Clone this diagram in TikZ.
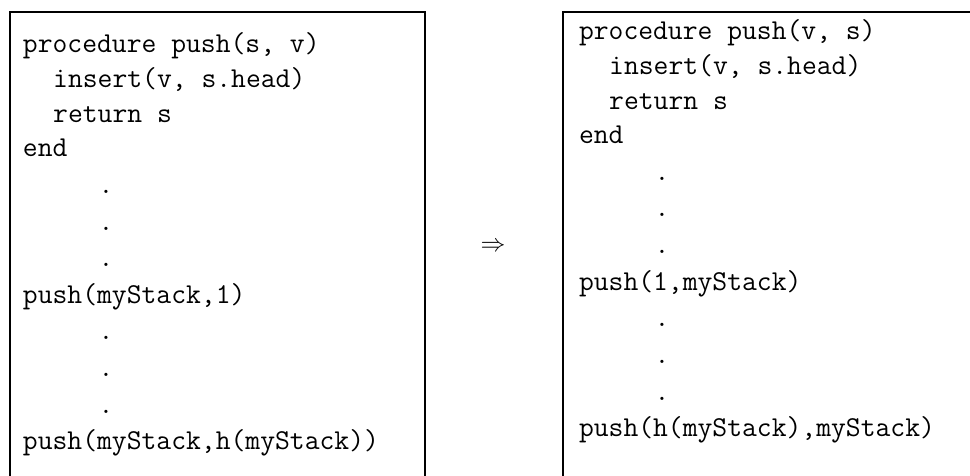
\documentclass[tikz,border=0pt]{standalone}
\begin{document}
\begin{tikzpicture}[x=1pt,y=-1pt,
  codeline/.style={font=\fontsize{28.8}{34.56}\selectfont\ttfamily,
    anchor=base west, inner sep=0pt, outer sep=0pt},
  frameline/.style={line width=2.6pt}]
\useasboundingbox (0,0) rectangle (970,476);
\clip (0,0) rectangle (970,476);

% frames, open at the bottom
\draw[frameline] (10,490) -- (10,12) -- (425,12) -- (425,490);
\draw[frameline] (563,490) -- (563,12) -- (985,12);

% column width of one character, line pitch and pitch of the elided rows
\def\charw{15.12}
\def\linepitch{34.6}
\def\rowpitch{36.6}

% left listing
\begin{scope}[shift={(23,53)}]
\node[codeline] (a1)  at (0,0)                                  {procedure push(s, v)};
\node[codeline] (a2)  at (2*\charw,\linepitch)                  {insert(v, s.head)};
\node[codeline] (a3)  at (2*\charw,2*\linepitch)                {return s};
\node[codeline] (a4)  at (0,3*\linepitch)                       {end};
\node[codeline] (a5)  at (5*\charw,3*\linepitch+\rowpitch)      {.};
\node[codeline] (a6)  at (5*\charw,3*\linepitch+2*\rowpitch)    {.};
\node[codeline] (a7)  at (5*\charw,3*\linepitch+3*\rowpitch)    {.};
\node[codeline] (a8)  at (0,3*\linepitch+4*\rowpitch)           {push(myStack,1)};
\node[codeline] (a9)  at (5*\charw,3*\linepitch+5*\rowpitch)    {.};
\node[codeline] (a10) at (5*\charw,3*\linepitch+6*\rowpitch)    {.};
\node[codeline] (a11) at (5*\charw,3*\linepitch+7*\rowpitch)    {.};
\node[codeline] (a12) at (0,3*\linepitch+8*\rowpitch)           {push(myStack,h(myStack))};
\end{scope}

% right listing
\begin{scope}[shift={(579,40)}]
\node[codeline] (b1)  at (0,0)                                  {procedure push(v, s)};
\node[codeline] (b2)  at (2*\charw,\linepitch)                  {insert(v, s.head)};
\node[codeline] (b3)  at (2*\charw,2*\linepitch)                {return s};
\node[codeline] (b4)  at (0,3*\linepitch)                       {end};
\node[codeline] (b5)  at (5*\charw,3*\linepitch+\rowpitch)      {.};
\node[codeline] (b6)  at (5*\charw,3*\linepitch+2*\rowpitch)    {.};
\node[codeline] (b7)  at (5*\charw,3*\linepitch+3*\rowpitch)    {.};
\node[codeline] (b8)  at (0,3*\linepitch+4*\rowpitch)           {push(1,myStack)};
\node[codeline] (b9)  at (5*\charw,3*\linepitch+5*\rowpitch)    {.};
\node[codeline] (b10) at (5*\charw,3*\linepitch+6*\rowpitch)    {.};
\node[codeline] (b11) at (5*\charw,3*\linepitch+7*\rowpitch)    {.};
\node[codeline] (b12) at (0,3*\linepitch+8*\rowpitch)           {push(h(myStack),myStack)};
\end{scope}

% transformation arrow
\node[font=\fontsize{26}{31}\selectfont, inner sep=0pt] (arr) at (493,247) {$\Rightarrow$};
\end{tikzpicture}
\end{document}
